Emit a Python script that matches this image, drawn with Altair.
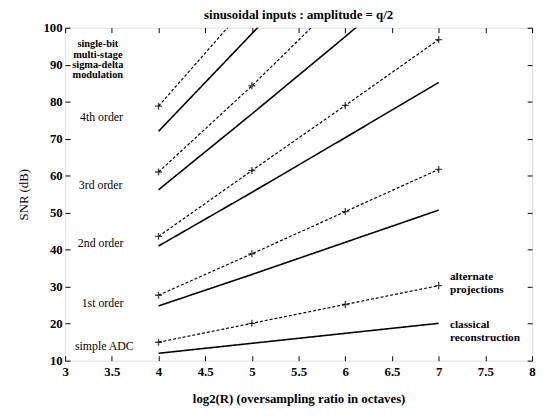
import altair as alt
import pandas as pd

# ---------------- data ----------------
octaves = [4, 5, 6, 7]
series_names = ["simple ADC", "1st order", "2nd order", "3rd order", "4th order"]

# classical reconstruction (solid)
classical_adc = [12.0, 14.7, 17.4, 20.1]
classical_1st = [24.8, 33.3, 42.0, 50.7]
classical_2nd = [41.0, 55.5, 70.3, 85.2]
classical_3rd = [56.2, 76.7, 97.6, 119.0]
classical_4th = [72.0, 98.4, 125.0]

# alternate projections (dashed, + markers)
alternate_adc = [15.0, 20.1, 25.2, 30.3]
alternate_1st = [27.7, 38.9, 50.3, 61.7]
alternate_2nd = [43.6, 61.4, 79.0, 96.8]
alternate_3rd = [61.0, 84.3, 109.0]
alternate_4th = [78.8, 107.5]

x_ticks = [3, 3.5, 4, 4.5, 5, 5.5, 6, 6.5, 7, 7.5, 8]
y_ticks = [10, 20, 30, 40, 50, 60, 70, 80, 90, 100]

# annotations
left_block_text = ["single-bit", "multi-stage", "sigma-delta", "modulation"]
left_block_x = [3.35, 3.35, 3.35, 3.35]
left_block_y = [95.5, 92.7, 89.9, 87.1]

order_text = ["4th order", "3rd order", "2nd order", "1st order", "simple ADC"]
order_x = [3.39, 3.38, 3.38, 3.40, 3.42]
order_y = [75.8, 57.4, 41.9, 25.6, 14.0]

right_text = ["alternate", "projections", "classical", "reconstruction"]
right_x = [7.12, 7.12, 7.12, 7.12]
right_y = [32.5, 29.1, 19.6, 16.1]

# ---------------- build tables ----------------
rows = []
classical = [classical_adc, classical_1st, classical_2nd, classical_3rd, classical_4th]
alternate = [alternate_adc, alternate_1st, alternate_2nd, alternate_3rd, alternate_4th]
for name, vals in zip(series_names, classical):
    for xv, yv in zip(octaves, vals):
        rows.append({"series": name + " classical", "method": "classical", "x": xv, "snr": yv})
for name, vals in zip(series_names, alternate):
    for xv, yv in zip(octaves, vals):
        rows.append({"series": name + " alternate", "method": "alternate", "x": xv, "snr": yv})
df = pd.DataFrame(rows)

ann_left = pd.DataFrame({"t": left_block_text, "x": left_block_x, "snr": left_block_y})
ann_order = pd.DataFrame({"t": order_text, "x": order_x, "snr": order_y})
ann_right = pd.DataFrame({"t": right_text, "x": right_x, "snr": right_y})

FONT = "Liberation Serif"

xscale = alt.Scale(domain=[3, 8], nice=False, zero=False)
yscale = alt.Scale(domain=[10, 100], nice=False, zero=False)

x_axis = alt.Axis(
    orient="bottom", values=x_ticks, format="~g", offset=-5, tickSize=5, domain=False,
    grid=False, labelOverlap=False, labelPadding=5, labelFont=FONT, labelFontSize=13,
    labelFontWeight="bold", labelColor="black", tickColor="black", labelFlush=False,
    title="log2(R)  (oversampling ratio in octaves)", titleFont=FONT, titleFontSize=13,
    titleFontWeight="bold", titleColor="black", titleY=47, titleBaseline="alphabetic",
)
y_axis = alt.Axis(
    orient="left", values=y_ticks, offset=-5, tickSize=5, domain=False, grid=False,
    labelOverlap=False, labelPadding=3, labelFont=FONT, labelFontSize=13,
    labelFontWeight="bold", labelColor="black", tickColor="black", labelFlush=False,
    title="SNR (dB)", titleFont=FONT, titleFontSize=13, titleFontWeight="normal",
    titleColor="black", titleX=-43, titleBaseline="alphabetic",
)
X = alt.X("x:Q", scale=xscale, axis=x_axis)
Y = alt.Y("snr:Q", scale=yscale, axis=y_axis)

lines = alt.Chart(df).mark_line(clip=True, color="black").encode(
    x=X,
    y=Y,
    detail="series:N",
    strokeDash=alt.StrokeDash(
        "method:N",
        scale=alt.Scale(domain=["classical", "alternate"], range=[[1, 0], [3, 2]]),
        legend=None,
    ),
    strokeWidth=alt.StrokeWidth(
        "method:N",
        scale=alt.Scale(domain=["classical", "alternate"], range=[1.6, 1.2]),
        legend=None,
    ),
)

markers = alt.Chart(df[df["method"] == "alternate"]).mark_point(
    clip=True, shape="M-1,0L1,0M0,-1L0,1", size=50, color="black",
    filled=False, strokeWidth=1.4,
).encode(x=X, y=Y)

txt_left = alt.Chart(ann_left).mark_text(
    font=FONT, fontSize=10.5, fontWeight="bold", align="center", baseline="middle", color="black"
).encode(x=X, y=Y, text="t:N")

txt_order = alt.Chart(ann_order).mark_text(
    font=FONT, fontSize=12, fontWeight="normal", align="center", baseline="middle", color="black"
).encode(x=X, y=Y, text="t:N")

txt_right = alt.Chart(ann_right).mark_text(
    font=FONT, fontSize=11.5, fontWeight="bold", align="left", baseline="middle", color="black"
).encode(x=X, y=Y, text="t:N")

main = alt.layer(lines, markers, txt_left, txt_order, txt_right)

# mirrored inward ticks on top and right
mirror = alt.Chart(df).mark_point(opacity=0, clip=True).encode(
    x=alt.X("x:Q", scale=xscale, axis=alt.Axis(
        orient="top", values=x_ticks, offset=-5, tickSize=5, domain=False, grid=False,
        labels=False, title=None, tickColor="black")),
    y=alt.Y("snr:Q", scale=yscale, axis=alt.Axis(
        orient="right", values=y_ticks, offset=-5, tickSize=5, domain=False, grid=False,
        labels=False, title=None, tickColor="black")),
)

chart = alt.layer(main, mirror).resolve_axis(x="independent", y="independent").properties(
    width=474,
    height=338,
    autosize=alt.AutoSizeParams(type="none"),
    padding={"left": 58, "top": 17, "right": 5, "bottom": 45},
    title=alt.TitleParams(
        "sinusoidal inputs : amplitude = q/2", font=FONT, fontSize=13, fontWeight="bold",
        color="black", anchor="middle", frame="group", baseline="alphabetic", offset=6, dy=16,
    ),
).configure_view(stroke="black", strokeWidth=1.2).configure_axis(
    labelOverlap=False
).configure(background="white")

chart.save("out.html", embed_options={"renderer": "svg", "actions": False})
